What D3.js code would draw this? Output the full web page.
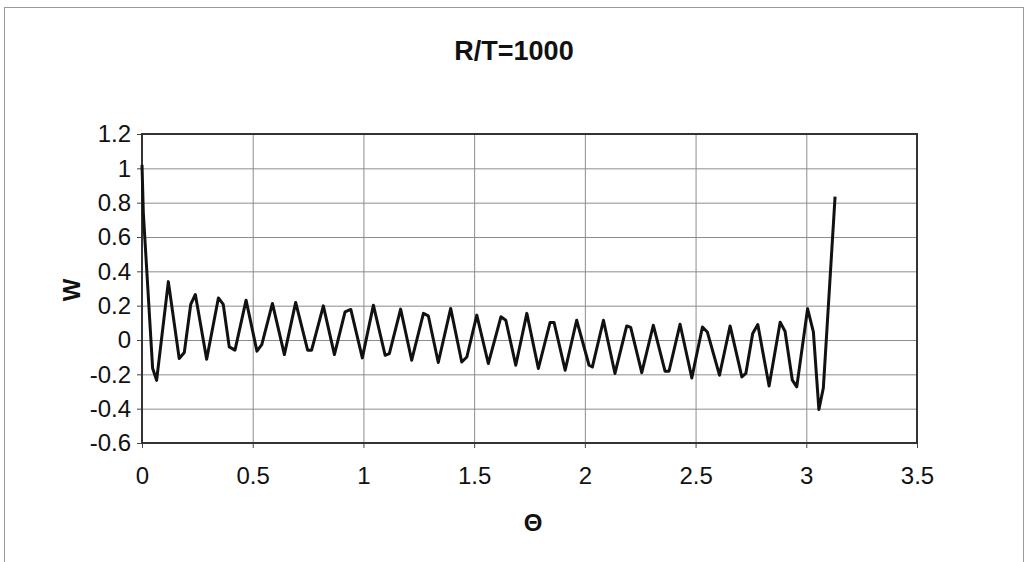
<!DOCTYPE html>
<html>
<head>
  <meta charset="UTF-8">
  <script src="https://d3js.org/d3.v7.min.js"></script>
  <style>
    body { margin: 0; background: #fff; font-family: Arial, "Liberation Sans", sans-serif; }
    #chart { width: 1028px; height: 562px; }
    .tick text { font-family: Arial, "Liberation Sans", sans-serif; font-size: 24px; fill: #111; }
    .title { font-size: 27px; font-weight: bold; fill: #111; }
    .axis-title { font-size: 24px; font-weight: bold; fill: #111; }
  </style>
</head>
<body>
  <div id="chart"></div>
  <script>
    // vertices (theta, w)
    const theta = [0, 0.006, 0.048, 0.066, 0.119, 0.168, 0.191, 0.220, 0.241, 0.292,
      0.345, 0.367, 0.394, 0.420, 0.470, 0.519, 0.541, 0.589, 0.643, 0.694,
      0.748, 0.766, 0.819, 0.869, 0.917, 0.943, 0.995, 1.045, 1.098, 1.117,
      1.168, 1.218, 1.271, 1.293, 1.338, 1.394, 1.444, 1.467, 1.512, 1.564,
      1.621, 1.643, 1.688, 1.738, 1.790, 1.843, 1.861, 1.911, 1.963, 2.019,
      2.034, 2.084, 2.136, 2.189, 2.207, 2.257, 2.309, 2.362, 2.380, 2.430,
      2.483, 2.531, 2.553, 2.608, 2.656, 2.709, 2.727, 2.758, 2.781, 2.832,
      2.882, 2.904, 2.937, 2.957, 3.006, 3.032, 3.057, 3.077, 3.130];
    const w = [1.02, 0.74, -0.165, -0.235, 0.34, -0.108, -0.073, 0.207, 0.265, -0.112,
      0.245, 0.207, -0.04, -0.059, 0.232, -0.065, -0.027, 0.213, -0.085, 0.219,
      -0.059, -0.059, 0.199, -0.085, 0.164, 0.178, -0.104, 0.203, -0.089, -0.079,
      0.18, -0.118, 0.155, 0.141, -0.131, 0.184, -0.128, -0.099, 0.145, -0.137,
      0.135, 0.115, -0.147, 0.155, -0.166, 0.102, 0.102, -0.176, 0.115, -0.147,
      -0.157, 0.115, -0.195, 0.082, 0.073, -0.19, 0.086, -0.182, -0.182, 0.092,
      -0.221, 0.076, 0.047, -0.205, 0.082, -0.215, -0.195, 0.038, 0.09, -0.268,
      0.104, 0.051, -0.234, -0.273, 0.182, 0.047, -0.405, -0.28, 0.835];

    const xTicks = [0, 0.5, 1, 1.5, 2, 2.5, 3, 3.5];
    const yTicks = [-0.6, -0.4, -0.2, 0, 0.2, 0.4, 0.6, 0.8, 1, 1.2];

    const margin = { top: 134, right: 111, bottom: 119, left: 142 };
    const width = 1028 - margin.left - margin.right;
    const height = 562 - margin.top - margin.bottom;

    const root = d3.select('#chart')
      .append('svg')
      .attr('width', 1028)
      .attr('height', 562);

    // outer chart frame
    root.append('rect')
      .attr('x', 4.5).attr('y', 7.5)
      .attr('width', 1019).attr('height', 600)
      .attr('fill', 'none')
      .attr('stroke', '#9a9a9a')
      .attr('stroke-width', 1);

    root.append('text')
      .attr('class', 'title')
      .attr('x', 514)
      .attr('y', 60)
      .attr('text-anchor', 'middle')
      .text('R/T=1000');

    const svg = root.append('g')
      .attr('transform', `translate(${margin.left},${margin.top})`);

    const xScale = d3.scaleLinear().domain([0, 3.5]).range([0, width]);
    const yScale = d3.scaleLinear().domain([-0.6, 1.2]).range([height, 0]);

    const fmt = v => String(+v.toFixed(1));

    // grid
    svg.append('g')
      .attr('class', 'grid')
      .call(d3.axisLeft(yScale).tickValues(yTicks).tickSize(-width).tickFormat(''))
      .call(g => g.select('.domain').remove())
      .call(g => g.selectAll('line').attr('stroke', '#8c8c8c').attr('stroke-width', 1));

    svg.append('g')
      .attr('class', 'grid')
      .attr('transform', `translate(0,${height})`)
      .call(d3.axisBottom(xScale).tickValues(xTicks).tickSize(-height).tickFormat(''))
      .call(g => g.select('.domain').remove())
      .call(g => g.selectAll('line').attr('stroke', '#8c8c8c').attr('stroke-width', 1));

    // axes
    svg.append('g')
      .attr('transform', `translate(0,${height})`)
      .call(d3.axisBottom(xScale).tickValues(xTicks).tickSize(5).tickPadding(19).tickFormat(fmt))
      .call(g => g.select('.domain').remove())
      .call(g => g.selectAll('line').attr('stroke', '#444'));

    svg.append('g')
      .call(d3.axisLeft(yScale).tickValues(yTicks).tickSize(5).tickPadding(6).tickFormat(fmt))
      .call(g => g.select('.domain').remove())
      .call(g => g.selectAll('line').attr('stroke', '#444'));

    // plot frame
    svg.append('rect')
      .attr('width', width)
      .attr('height', height)
      .attr('fill', 'none')
      .attr('stroke', '#333')
      .attr('stroke-width', 2);

    const pts = theta.map((t, i) => ({ t, v: w[i] }));

    const line = d3.line()
      .x(d => xScale(d.t))
      .y(d => yScale(d.v));

    svg.append('path')
      .datum(pts)
      .attr('fill', 'none')
      .attr('stroke', '#111')
      .attr('stroke-width', 3)
      .attr('stroke-linejoin', 'round')
      .attr('d', line);

    root.append('text')
      .attr('class', 'axis-title')
      .attr('x', 533)
      .attr('y', 531)
      .attr('text-anchor', 'middle')
      .text('Θ');

    root.append('text')
      .attr('class', 'axis-title')
      .attr('transform', 'translate(80,290) rotate(-90)')
      .attr('text-anchor', 'middle')
      .text('W');
  </script>
</body>
</html>
